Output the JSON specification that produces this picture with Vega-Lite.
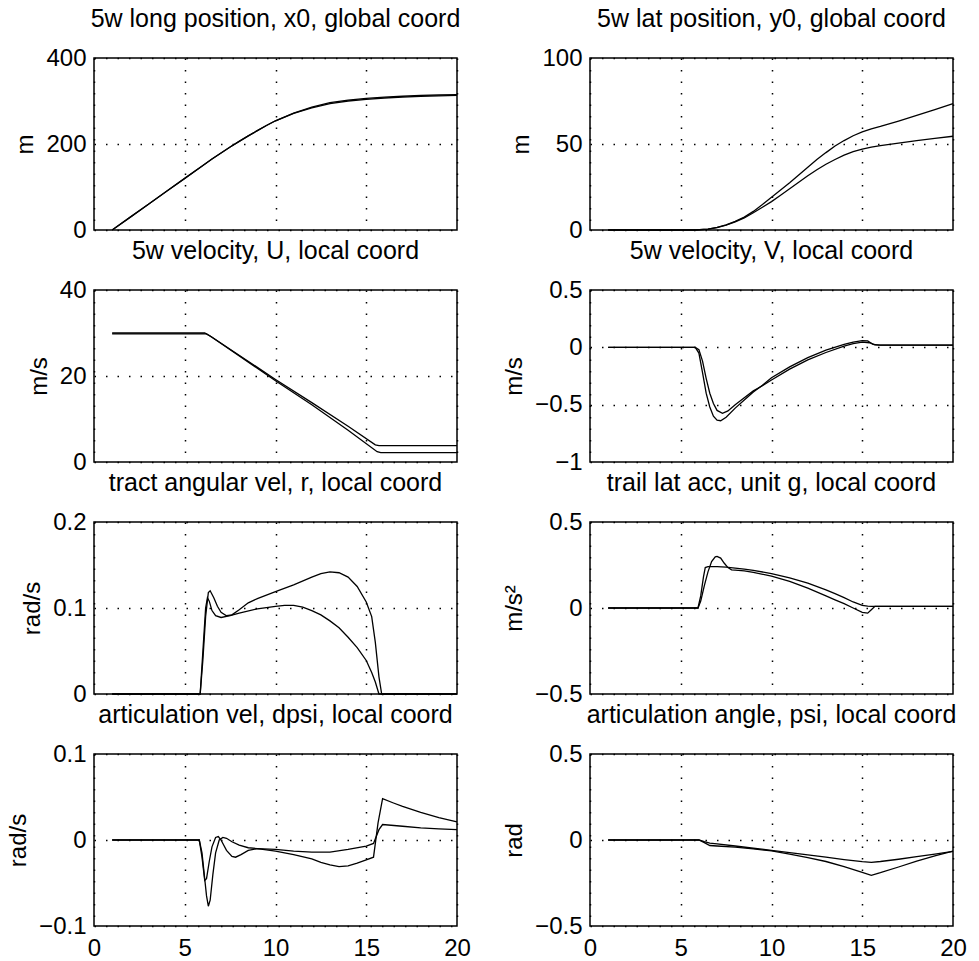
{
 "$schema": "https://vega.github.io/schema/vega-lite/v6.json",
 "padding": {"left": 5, "top": 6, "right": 5, "bottom": 5},
 "background": "white",
 "bounds": "flush",
 "columns": 2,
 "spacing": {"row": 60, "column": 133},
 "datasets": {
  "p1": [
   {"s":"a","t":1,"v":0},{"s":"a","t":2,"v":30},{"s":"a","t":3,"v":60},{"s":"a","t":4,"v":90},{"s":"a","t":5,"v":120},{"s":"a","t":6,"v":150},{"s":"a","t":6.5,"v":165},{"s":"a","t":7,"v":179},{"s":"a","t":7.5,"v":193},{"s":"a","t":8,"v":206},{"s":"a","t":8.5,"v":219},{"s":"a","t":9,"v":231},{"s":"a","t":9.5,"v":243},{"s":"a","t":10,"v":254},{"s":"a","t":11,"v":272},{"s":"a","t":12,"v":286},{"s":"a","t":13,"v":296},{"s":"a","t":14,"v":302},{"s":"a","t":15,"v":306},{"s":"a","t":16,"v":309},{"s":"a","t":17,"v":311},{"s":"a","t":18,"v":313},{"s":"a","t":19,"v":314},{"s":"a","t":20,"v":315},
   {"s":"b","t":1,"v":0},{"s":"b","t":2,"v":30},{"s":"b","t":3,"v":60},{"s":"b","t":4,"v":90},{"s":"b","t":5,"v":120},{"s":"b","t":6,"v":150},{"s":"b","t":6.5,"v":165},{"s":"b","t":7,"v":179},{"s":"b","t":7.5,"v":193},{"s":"b","t":8,"v":206},{"s":"b","t":8.5,"v":219},{"s":"b","t":9,"v":231},{"s":"b","t":9.5,"v":243},{"s":"b","t":10,"v":254},{"s":"b","t":11,"v":271},{"s":"b","t":12,"v":284},{"s":"b","t":13,"v":294},{"s":"b","t":14,"v":300},{"s":"b","t":15,"v":304},{"s":"b","t":16,"v":307},{"s":"b","t":17,"v":309},{"s":"b","t":18,"v":311},{"s":"b","t":19,"v":312},{"s":"b","t":20,"v":313}
  ],
  "p2": [
   {"s":"a","t":1,"v":0},{"s":"a","t":5.8,"v":0},{"s":"a","t":6.5,"v":0.5},{"s":"a","t":7,"v":1.5},{"s":"a","t":7.5,"v":3},{"s":"a","t":8,"v":5},{"s":"a","t":8.5,"v":7.5},{"s":"a","t":9,"v":10.8},{"s":"a","t":9.5,"v":14.8},{"s":"a","t":10,"v":19},{"s":"a","t":10.5,"v":23.2},{"s":"a","t":11,"v":27.5},{"s":"a","t":11.5,"v":32},{"s":"a","t":12,"v":36.5},{"s":"a","t":12.5,"v":41},{"s":"a","t":13,"v":45},{"s":"a","t":13.5,"v":48.8},{"s":"a","t":14,"v":52},{"s":"a","t":14.5,"v":54.8},{"s":"a","t":15,"v":57},{"s":"a","t":15.5,"v":58.8},{"s":"a","t":16,"v":60.2},{"s":"a","t":17,"v":63.3},{"s":"a","t":18,"v":66.6},{"s":"a","t":19,"v":70},{"s":"a","t":20,"v":73.5},
   {"s":"b","t":1,"v":0},{"s":"b","t":5.8,"v":0},{"s":"b","t":6.5,"v":0.5},{"s":"b","t":7,"v":1.4},{"s":"b","t":7.5,"v":2.8},{"s":"b","t":8,"v":4.7},{"s":"b","t":8.5,"v":7},{"s":"b","t":9,"v":10},{"s":"b","t":9.5,"v":13.2},{"s":"b","t":10,"v":16.5},{"s":"b","t":10.5,"v":20.2},{"s":"b","t":11,"v":24},{"s":"b","t":11.5,"v":27.8},{"s":"b","t":12,"v":31.5},{"s":"b","t":12.5,"v":35},{"s":"b","t":13,"v":38.2},{"s":"b","t":13.5,"v":41},{"s":"b","t":14,"v":43.5},{"s":"b","t":14.5,"v":45.5},{"s":"b","t":15,"v":47},{"s":"b","t":15.5,"v":48.2},{"s":"b","t":16,"v":49},{"s":"b","t":17,"v":50.5},{"s":"b","t":18,"v":52},{"s":"b","t":19,"v":53.3},{"s":"b","t":20,"v":54.5}
  ],
  "p3": [
   {"s":"a","t":1,"v":30},{"s":"a","t":6.1,"v":30},{"s":"a","t":6.4,"v":29.3},{"s":"a","t":10,"v":19.2},{"s":"a","t":12,"v":13.8},{"s":"a","t":14,"v":8.3},{"s":"a","t":15.5,"v":4.0},{"s":"a","t":15.7,"v":3.8},{"s":"a","t":20,"v":3.8},
   {"s":"b","t":1,"v":29.8},{"s":"b","t":6.2,"v":29.8},{"s":"b","t":6.5,"v":29.0},{"s":"b","t":10,"v":18.9},{"s":"b","t":12,"v":13.3},{"s":"b","t":14,"v":7.4},{"s":"b","t":15.6,"v":2.4},{"s":"b","t":15.8,"v":2.2},{"s":"b","t":20,"v":2.2}
  ],
  "p4": [
   {"s":"a","t":1,"v":0},{"s":"a","t":5.8,"v":0},{"s":"a","t":6.0,"v":-0.05},{"s":"a","t":6.2,"v":-0.22},{"s":"a","t":6.4,"v":-0.4},{"s":"a","t":6.6,"v":-0.52},{"s":"a","t":6.8,"v":-0.6},{"s":"a","t":7.0,"v":-0.635},{"s":"a","t":7.2,"v":-0.64},{"s":"a","t":7.5,"v":-0.61},{"s":"a","t":8,"v":-0.53},{"s":"a","t":8.5,"v":-0.46},{"s":"a","t":9,"v":-0.39},{"s":"a","t":9.5,"v":-0.33},{"s":"a","t":10,"v":-0.265},{"s":"a","t":11,"v":-0.17},{"s":"a","t":12,"v":-0.09},{"s":"a","t":13,"v":-0.025},{"s":"a","t":14,"v":0.025},{"s":"a","t":14.5,"v":0.045},{"s":"a","t":15,"v":0.058},{"s":"a","t":15.3,"v":0.056},{"s":"a","t":15.6,"v":0.025},{"s":"a","t":16,"v":0.02},{"s":"a","t":20,"v":0.02},
   {"s":"b","t":1,"v":0},{"s":"b","t":5.8,"v":0},{"s":"b","t":6.0,"v":-0.02},{"s":"b","t":6.2,"v":-0.12},{"s":"b","t":6.4,"v":-0.27},{"s":"b","t":6.6,"v":-0.40},{"s":"b","t":6.8,"v":-0.49},{"s":"b","t":7.0,"v":-0.55},{"s":"b","t":7.3,"v":-0.575},{"s":"b","t":7.6,"v":-0.555},{"s":"b","t":8,"v":-0.5},{"s":"b","t":8.5,"v":-0.44},{"s":"b","t":9,"v":-0.38},{"s":"b","t":9.5,"v":-0.335},{"s":"b","t":10,"v":-0.285},{"s":"b","t":11,"v":-0.19},{"s":"b","t":12,"v":-0.11},{"s":"b","t":13,"v":-0.045},{"s":"b","t":14,"v":0.01},{"s":"b","t":14.5,"v":0.032},{"s":"b","t":15,"v":0.045},{"s":"b","t":15.4,"v":0.04},{"s":"b","t":15.7,"v":0.022},{"s":"b","t":16,"v":0.02},{"s":"b","t":20,"v":0.02}
  ],
  "p5": [
   {"s":"a","t":1,"v":0},{"s":"a","t":5.85,"v":0},{"s":"a","t":6.0,"v":0.04},{"s":"a","t":6.15,"v":0.09},{"s":"a","t":6.3,"v":0.118},{"s":"a","t":6.4,"v":0.12},{"s":"a","t":6.6,"v":0.112},{"s":"a","t":6.8,"v":0.102},{"s":"a","t":7.0,"v":0.095},{"s":"a","t":7.3,"v":0.091},{"s":"a","t":7.6,"v":0.092},{"s":"a","t":8.0,"v":0.098},{"s":"a","t":8.5,"v":0.106},{"s":"a","t":9,"v":0.111},{"s":"a","t":10,"v":0.119},{"s":"a","t":11,"v":0.127},{"s":"a","t":12,"v":0.136},{"s":"a","t":12.5,"v":0.14},{"s":"a","t":13,"v":0.142},{"s":"a","t":13.5,"v":0.141},{"s":"a","t":14,"v":0.136},{"s":"a","t":14.5,"v":0.125},{"s":"a","t":15,"v":0.107},{"s":"a","t":15.3,"v":0.09},{"s":"a","t":15.5,"v":0.06},{"s":"a","t":15.7,"v":0.02},{"s":"a","t":15.85,"v":0},{"s":"a","t":20,"v":0},
   {"s":"b","t":1,"v":0},{"s":"b","t":5.85,"v":0},{"s":"b","t":6.0,"v":0.05},{"s":"b","t":6.15,"v":0.1},{"s":"b","t":6.25,"v":0.112},{"s":"b","t":6.35,"v":0.108},{"s":"b","t":6.5,"v":0.097},{"s":"b","t":6.7,"v":0.091},{"s":"b","t":7.0,"v":0.089},{"s":"b","t":7.5,"v":0.091},{"s":"b","t":8,"v":0.094},{"s":"b","t":9,"v":0.099},{"s":"b","t":10,"v":0.102},{"s":"b","t":10.5,"v":0.103},{"s":"b","t":11,"v":0.103},{"s":"b","t":11.5,"v":0.101},{"s":"b","t":12,"v":0.097},{"s":"b","t":12.5,"v":0.092},{"s":"b","t":13,"v":0.085},{"s":"b","t":13.5,"v":0.077},{"s":"b","t":14,"v":0.066},{"s":"b","t":14.5,"v":0.054},{"s":"b","t":15,"v":0.039},{"s":"b","t":15.3,"v":0.025},{"s":"b","t":15.5,"v":0.014},{"s":"b","t":15.7,"v":0},{"s":"b","t":20,"v":0}
  ],
  "p6": [
   {"s":"a","t":1,"v":0},{"s":"a","t":5.95,"v":0},{"s":"a","t":6.1,"v":0.04},{"s":"a","t":6.3,"v":0.13},{"s":"a","t":6.5,"v":0.21},{"s":"a","t":6.7,"v":0.27},{"s":"a","t":6.9,"v":0.298},{"s":"a","t":7.0,"v":0.30},{"s":"a","t":7.2,"v":0.29},{"s":"a","t":7.4,"v":0.26},{"s":"a","t":7.6,"v":0.235},{"s":"a","t":7.8,"v":0.222},{"s":"a","t":8.0,"v":0.22},{"s":"a","t":8.5,"v":0.216},{"s":"a","t":9,"v":0.207},{"s":"a","t":10,"v":0.185},{"s":"a","t":11,"v":0.155},{"s":"a","t":12,"v":0.115},{"s":"a","t":13,"v":0.07},{"s":"a","t":13.5,"v":0.047},{"s":"a","t":14,"v":0.025},{"s":"a","t":14.5,"v":0.0},{"s":"a","t":15,"v":-0.025},{"s":"a","t":15.3,"v":-0.03},{"s":"a","t":15.5,"v":-0.01},{"s":"a","t":15.7,"v":0.01},{"s":"a","t":20,"v":0.01},
   {"s":"b","t":1,"v":0},{"s":"b","t":5.95,"v":0},{"s":"b","t":6.1,"v":0.07},{"s":"b","t":6.25,"v":0.18},{"s":"b","t":6.35,"v":0.235},{"s":"b","t":6.5,"v":0.24},{"s":"b","t":7,"v":0.24},{"s":"b","t":7.5,"v":0.238},{"s":"b","t":8,"v":0.232},{"s":"b","t":8.5,"v":0.226},{"s":"b","t":9,"v":0.219},{"s":"b","t":10,"v":0.2},{"s":"b","t":11,"v":0.175},{"s":"b","t":12,"v":0.145},{"s":"b","t":13,"v":0.105},{"s":"b","t":13.5,"v":0.083},{"s":"b","t":14,"v":0.06},{"s":"b","t":14.5,"v":0.035},{"s":"b","t":15,"v":0.015},{"s":"b","t":15.3,"v":0.011},{"s":"b","t":15.5,"v":0.01},{"s":"b","t":20,"v":0.01}
  ],
  "p7": [
   {"s":"a","t":1,"v":0},{"s":"a","t":5.8,"v":0},{"s":"a","t":5.95,"v":-0.015},{"s":"a","t":6.1,"v":-0.045},{"s":"a","t":6.2,"v":-0.065},{"s":"a","t":6.3,"v":-0.077},{"s":"a","t":6.4,"v":-0.07},{"s":"a","t":6.55,"v":-0.04},{"s":"a","t":6.7,"v":-0.015},{"s":"a","t":6.9,"v":0.0},{"s":"a","t":7.1,"v":0.003},{"s":"a","t":7.3,"v":0.002},{"s":"a","t":7.6,"v":-0.002},{"s":"a","t":8,"v":-0.006},{"s":"a","t":8.5,"v":-0.009},{"s":"a","t":9,"v":-0.01},{"s":"a","t":10,"v":-0.013},{"s":"a","t":11,"v":-0.017},{"s":"a","t":12,"v":-0.022},{"s":"a","t":12.5,"v":-0.026},{"s":"a","t":13,"v":-0.029},{"s":"a","t":13.5,"v":-0.031},{"s":"a","t":14,"v":-0.03},{"s":"a","t":14.5,"v":-0.027},{"s":"a","t":15,"v":-0.023},{"s":"a","t":15.4,"v":-0.02},{"s":"a","t":15.65,"v":0.02},{"s":"a","t":15.9,"v":0.048},{"s":"a","t":16.5,"v":0.043},{"s":"a","t":17,"v":0.039},{"s":"a","t":18,"v":0.032},{"s":"a","t":19,"v":0.026},{"s":"a","t":20,"v":0.021},
   {"s":"b","t":1,"v":0},{"s":"b","t":5.8,"v":0},{"s":"b","t":5.95,"v":-0.02},{"s":"b","t":6.1,"v":-0.047},{"s":"b","t":6.2,"v":-0.045},{"s":"b","t":6.35,"v":-0.025},{"s":"b","t":6.5,"v":-0.008},{"s":"b","t":6.7,"v":0.003},{"s":"b","t":6.85,"v":0.004},{"s":"b","t":7.0,"v":0.0},{"s":"b","t":7.3,"v":-0.012},{"s":"b","t":7.6,"v":-0.019},{"s":"b","t":7.8,"v":-0.02},{"s":"b","t":8.1,"v":-0.017},{"s":"b","t":8.5,"v":-0.012},{"s":"b","t":9,"v":-0.01},{"s":"b","t":10,"v":-0.011},{"s":"b","t":11,"v":-0.013},{"s":"b","t":12,"v":-0.014},{"s":"b","t":13,"v":-0.014},{"s":"b","t":14,"v":-0.011},{"s":"b","t":15,"v":-0.007},{"s":"b","t":15.4,"v":-0.004},{"s":"b","t":15.7,"v":0.012},{"s":"b","t":15.9,"v":0.018},{"s":"b","t":17,"v":0.016},{"s":"b","t":18,"v":0.014},{"s":"b","t":19,"v":0.013},{"s":"b","t":20,"v":0.012}
  ],
  "p8": [
   {"s":"a","t":1,"v":0},{"s":"a","t":6.0,"v":0},{"s":"a","t":6.3,"v":-0.015},{"s":"a","t":6.6,"v":-0.032},{"s":"a","t":7,"v":-0.035},{"s":"a","t":8,"v":-0.042},{"s":"a","t":9,"v":-0.052},{"s":"a","t":10,"v":-0.063},{"s":"a","t":11,"v":-0.082},{"s":"a","t":12,"v":-0.102},{"s":"a","t":13,"v":-0.125},{"s":"a","t":14,"v":-0.155},{"s":"a","t":15,"v":-0.188},{"s":"a","t":15.5,"v":-0.205},{"s":"a","t":16,"v":-0.19},{"s":"a","t":17,"v":-0.157},{"s":"a","t":18,"v":-0.123},{"s":"a","t":19,"v":-0.092},{"s":"a","t":20,"v":-0.065},
   {"s":"b","t":1,"v":0},{"s":"b","t":6.0,"v":0},{"s":"b","t":6.3,"v":-0.01},{"s":"b","t":6.6,"v":-0.018},{"s":"b","t":7,"v":-0.022},{"s":"b","t":8,"v":-0.035},{"s":"b","t":9,"v":-0.048},{"s":"b","t":10,"v":-0.06},{"s":"b","t":11,"v":-0.073},{"s":"b","t":12,"v":-0.086},{"s":"b","t":13,"v":-0.1},{"s":"b","t":14,"v":-0.114},{"s":"b","t":15,"v":-0.126},{"s":"b","t":15.5,"v":-0.13},{"s":"b","t":16,"v":-0.125},{"s":"b","t":17,"v":-0.112},{"s":"b","t":18,"v":-0.097},{"s":"b","t":19,"v":-0.082},{"s":"b","t":20,"v":-0.066}
  ]
 },
 "concat": [
  {
   "data": {"name": "p1"}, "title": "5w long position, x0, global coord", "width": 363, "height": 172,
   "mark": {"type": "line", "color": "black", "strokeWidth": 1.3},
   "encoding": {
    "x": {"field": "t", "type": "quantitative", "scale": {"domain": [0, 20], "nice": false}, "axis": {"values": [0, 5, 10, 15, 20], "labels": false, "title": null}},
    "y": {"field": "v", "type": "quantitative", "scale": {"domain": [0, 400], "nice": false, "zero": false}, "axis": {"values": [0, 200, 400], "title": "m", "format": "~r"}},
    "detail": {"field": "s"}
   }
  },
  {
   "data": {"name": "p2"}, "title": "5w lat position, y0, global coord", "width": 363, "height": 172,
   "mark": {"type": "line", "color": "black", "strokeWidth": 1.3},
   "encoding": {
    "x": {"field": "t", "type": "quantitative", "scale": {"domain": [0, 20], "nice": false}, "axis": {"values": [0, 5, 10, 15, 20], "labels": false, "title": null}},
    "y": {"field": "v", "type": "quantitative", "scale": {"domain": [0, 100], "nice": false, "zero": false}, "axis": {"values": [0, 50, 100], "title": "m", "format": "~r"}},
    "detail": {"field": "s"}
   }
  },
  {
   "data": {"name": "p3"}, "title": "5w velocity, U, local coord", "width": 363, "height": 172,
   "mark": {"type": "line", "color": "black", "strokeWidth": 1.3},
   "encoding": {
    "x": {"field": "t", "type": "quantitative", "scale": {"domain": [0, 20], "nice": false}, "axis": {"values": [0, 5, 10, 15, 20], "labels": false, "title": null}},
    "y": {"field": "v", "type": "quantitative", "scale": {"domain": [0, 40], "nice": false, "zero": false}, "axis": {"values": [0, 20, 40], "title": "m/s", "format": "~r"}},
    "detail": {"field": "s"}
   }
  },
  {
   "data": {"name": "p4"}, "title": "5w velocity, V, local coord", "width": 363, "height": 172,
   "mark": {"type": "line", "color": "black", "strokeWidth": 1.3},
   "encoding": {
    "x": {"field": "t", "type": "quantitative", "scale": {"domain": [0, 20], "nice": false}, "axis": {"values": [0, 5, 10, 15, 20], "labels": false, "title": null}},
    "y": {"field": "v", "type": "quantitative", "scale": {"domain": [-1, 0.5], "nice": false, "zero": false}, "axis": {"values": [-1, -0.5, 0, 0.5], "title": "m/s", "format": "~r"}},
    "detail": {"field": "s"}
   }
  },
  {
   "data": {"name": "p5"}, "title": "tract angular vel, r, local coord", "width": 363, "height": 172,
   "mark": {"type": "line", "color": "black", "strokeWidth": 1.3},
   "encoding": {
    "x": {"field": "t", "type": "quantitative", "scale": {"domain": [0, 20], "nice": false}, "axis": {"values": [0, 5, 10, 15, 20], "labels": false, "title": null}},
    "y": {"field": "v", "type": "quantitative", "scale": {"domain": [0, 0.2], "nice": false, "zero": false}, "axis": {"values": [0, 0.1, 0.2], "title": "rad/s", "format": "~r"}},
    "detail": {"field": "s"}
   }
  },
  {
   "data": {"name": "p6"}, "title": "trail lat acc, unit g, local coord", "width": 363, "height": 172,
   "mark": {"type": "line", "color": "black", "strokeWidth": 1.3},
   "encoding": {
    "x": {"field": "t", "type": "quantitative", "scale": {"domain": [0, 20], "nice": false}, "axis": {"values": [0, 5, 10, 15, 20], "labels": false, "title": null}},
    "y": {"field": "v", "type": "quantitative", "scale": {"domain": [-0.5, 0.5], "nice": false, "zero": false}, "axis": {"values": [-0.5, 0, 0.5], "title": "m/s²", "format": "~r"}},
    "detail": {"field": "s"}
   }
  },
  {
   "data": {"name": "p7"}, "title": "articulation vel, dpsi, local coord", "width": 363, "height": 172,
   "mark": {"type": "line", "color": "black", "strokeWidth": 1.3},
   "encoding": {
    "x": {"field": "t", "type": "quantitative", "scale": {"domain": [0, 20], "nice": false}, "axis": {"values": [0, 5, 10, 15, 20], "title": null, "format": "~r"}},
    "y": {"field": "v", "type": "quantitative", "scale": {"domain": [-0.1, 0.1], "nice": false, "zero": false}, "axis": {"values": [-0.1, 0, 0.1], "title": "rad/s", "format": "~r"}},
    "detail": {"field": "s"}
   }
  },
  {
   "data": {"name": "p8"}, "title": "articulation angle, psi, local coord", "width": 363, "height": 172,
   "mark": {"type": "line", "color": "black", "strokeWidth": 1.3},
   "encoding": {
    "x": {"field": "t", "type": "quantitative", "scale": {"domain": [0, 20], "nice": false}, "axis": {"values": [0, 5, 10, 15, 20], "title": null, "format": "~r"}},
    "y": {"field": "v", "type": "quantitative", "scale": {"domain": [-0.5, 0.5], "nice": false, "zero": false}, "axis": {"values": [-0.5, 0, 0.5], "title": "rad", "format": "~r"}},
    "detail": {"field": "s"}
   }
  }
 ],
 "config": {
  "font": "Liberation Sans",
  "view": {"stroke": "black", "strokeWidth": 1.5},
  "title": {"fontSize": 25, "fontWeight": "normal", "color": "black", "offset": 14},
  "axis": {"domain": false, "ticks": false, "grid": true, "gridColor": "black", "gridDash": [1.5, 10], "gridWidth": 1.5, "gridOpacity": 1, "labelFontSize": 24, "labelColor": "black", "labelPadding": 8, "titleFontSize": 24, "titleFontWeight": "normal", "titleColor": "black", "titlePadding": 8, "labelFlush": false, "labelOverlap": false},
  "axisX": {"labelPadding": 10}
 }
}
